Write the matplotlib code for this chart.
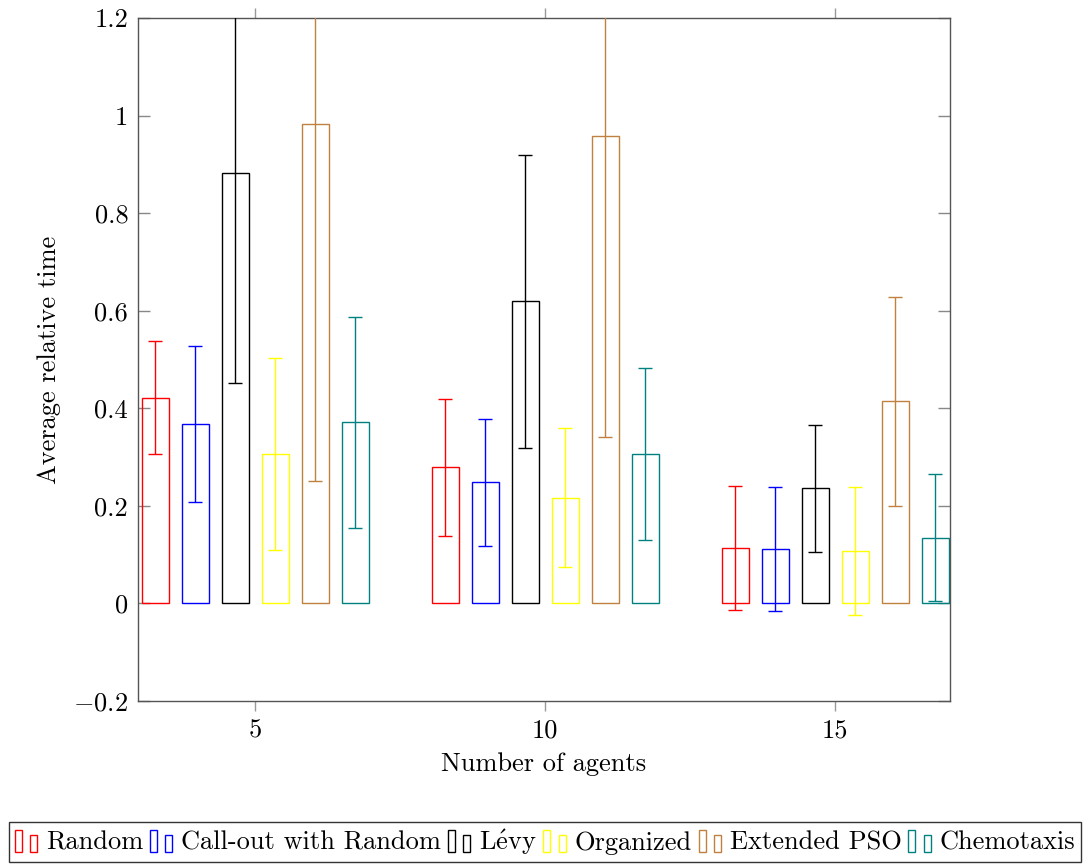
import matplotlib.pyplot as plt
import numpy as np
from matplotlib.legend_handler import HandlerBase
from matplotlib.patches import Rectangle

plt.rcParams['font.family'] = 'serif'
plt.rcParams['font.serif'] = ['cmr10']
plt.rcParams['mathtext.fontset'] = 'cm'
plt.rcParams['axes.formatter.use_mathtext'] = True

agents = [5, 10, 15]
methods = ['Random', 'Call-out with Random', r'L$\acute{\mathrm{e}}$vy',
           'Organized', 'Extended PSO', 'Chemotaxis']
colors = ['#ff0000', '#0000ff', '#000000', '#ffff00', '#bf8040', '#008080']

# mean and error per method, one entry per agent count
random_mean = [0.422, 0.279, 0.113]
random_err = [0.115, 0.140, 0.127]
callout_mean = [0.367, 0.248, 0.111]
callout_err = [0.160, 0.131, 0.127]
levy_mean = [0.883, 0.619, 0.236]
levy_err = [0.432, 0.300, 0.130]
organized_mean = [0.307, 0.217, 0.107]
organized_err = [0.197, 0.142, 0.131]
pso_mean = [0.982, 0.959, 0.414]
pso_err = [0.730, 0.617, 0.215]
chemo_mean = [0.371, 0.307, 0.135]
chemo_err = [0.217, 0.176, 0.130]

means = [random_mean, callout_mean, levy_mean, organized_mean, pso_mean, chemo_mean]
errs = [random_err, callout_err, levy_err, organized_err, pso_err, chemo_err]

yticks = [-0.2, 0, 0.2, 0.4, 0.6, 0.8, 1, 1.2]
ytick_labels = [r'$-0.2$', '0', '0.2', '0.4', '0.6', '0.8', '1', '1.2']

FS = 19


class TwoBarHandler(HandlerBase):
    # pgfplots style ybar legend image: two thin bars, the second one shorter
    def create_artists(self, legend, orig_handle, xdescent, ydescent,
                       width, height, fontsize, trans):
        ec = orig_handle.get_edgecolor()
        x0 = -xdescent
        y0 = -ydescent - 2.0
        r1 = Rectangle((x0, y0), 5.0, 16.5, fc='none', ec=ec, lw=1.0, transform=trans)
        r2 = Rectangle((x0 + 11.0, y0), 5.0, 12.5, fc='none', ec=ec, lw=1.0,
                       transform=trans)
        return [r1, r2]


fig = plt.figure(figsize=(10.88, 8.66), dpi=100)
ax = fig.add_axes([0.1268, 0.1905, 0.7464, 0.7887])

x = np.array(agents, dtype=float)
step = 0.69
width = 0.466
handles = []
for i, (m, e, c) in enumerate(zip(means, errs, colors)):
    pos = x + (i - 2.5) * step
    b = ax.bar(pos, m, width, facecolor='none', edgecolor=c, linewidth=1.0,
               label=methods[i], zorder=2)
    ax.errorbar(pos, m, yerr=e, fmt='none', ecolor=c, elinewidth=1.0,
                capsize=5, capthick=1.0, zorder=3)
    handles.append(b.patches[0])

ax.set_xlim(2.98, 16.98)
ax.set_ylim(-0.2, 1.2)
ax.set_xticks(agents)
ax.set_xticklabels([str(a) for a in agents])
ax.set_yticks(yticks)
ax.set_yticklabels(ytick_labels)

ax.tick_params(axis='x', direction='out', top=True, bottom=True, length=7,
               width=1.0, color='#999999', labelsize=FS, pad=6)
ax.tick_params(axis='y', direction='in', left=True, right=True, length=8.5,
               width=1.0, color='#888888', labelsize=FS, pad=7)
for s in ax.spines.values():
    s.set_color('#555555')
    s.set_linewidth(1.0)

ax.set_xlabel('Number of agents', fontsize=FS, labelpad=7)
ax.set_ylabel('Average relative time', fontsize=FS, labelpad=9)

leg = fig.legend(handles, methods, loc='center', bbox_to_anchor=(0.501, 0.0277),
                 ncol=6, fontsize=FS, frameon=True, fancybox=False,
                 edgecolor='black', handler_map={Rectangle: TwoBarHandler()},
                 handlelength=0.89, handletextpad=0.3, columnspacing=0.25,
                 borderpad=0.2, borderaxespad=0)
leg.get_frame().set_linewidth(1.0)

fig.savefig('out.png', dpi=100)
